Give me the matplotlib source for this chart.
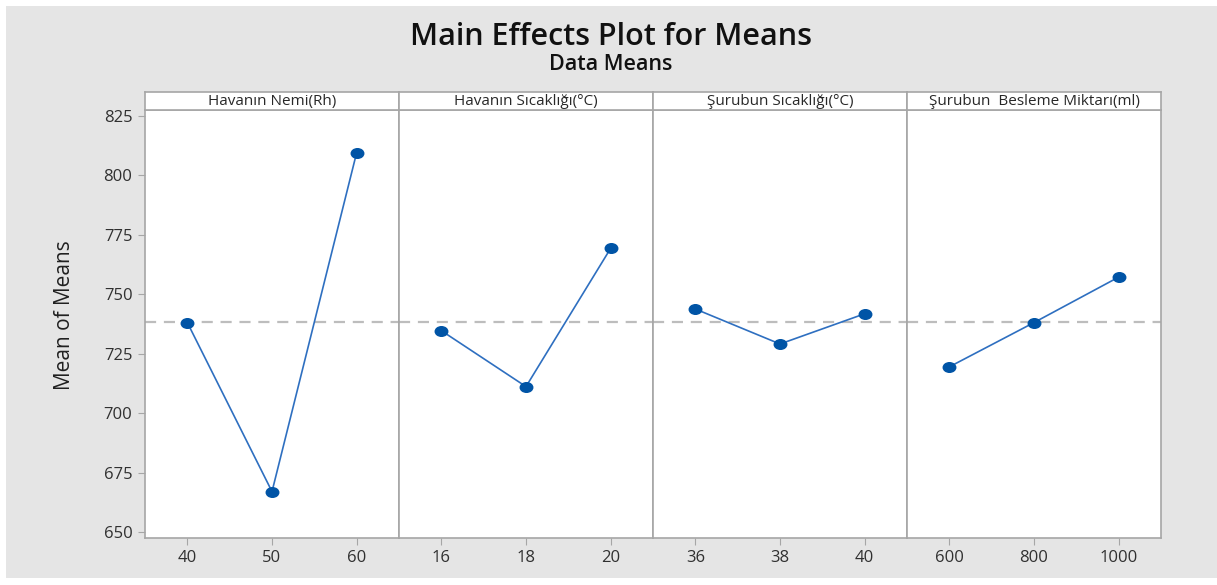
import matplotlib
matplotlib.use('Agg')
import matplotlib.pyplot as plt
from matplotlib.patches import Rectangle
from matplotlib.path import Path
from matplotlib.transforms import Affine2D

plt.rcParams['font.family'] = ['Open Sans', 'DejaVu Sans']

# factor names and levels
factors = ['Havanın Nemi(Rh)', 'Havanın Sıcaklığı(°C)',
           'Şurubun Sıcaklığı(°C)', 'Şurubun  Besleme Miktarı(ml)']
levels = [[40, 50, 60], [16, 18, 20], [36, 38, 40], [600, 800, 1000]]
means = [[738.1, 667.1, 809.5],
         [734.7, 711.2, 769.3],
         [743.8, 729.1, 741.8],
         [719.5, 738.1, 757.2]]
grand_mean = 738.2
yticks = [650, 675, 700, 725, 750, 775, 800, 825]

W, H = 1217, 585
fig = plt.figure(figsize=(W / 100, H / 100), dpi=100)
fig.patch.set_facecolor('white')
# gray background panel (white margin at top/left/bottom)
fig.patches.append(Rectangle((6 / W, 7 / H), 1 - 6 / W, 1 - 13 / H,
                             transform=fig.transFigure, facecolor='#e5e5e5',
                             edgecolor='none', zorder=-5))

# slightly wide dot, like in the original
dot = Path.unit_circle().transformed(Affine2D().scale(1.3, 1.0))

left, right = 145, 1161
bottom, top = 538, 110
strip_top = 92
pw = (right - left) / 4
edge = '#a6a6a6'
blue = '#0054a6'

for i in range(4):
    x0 = left + i * pw
    ax = fig.add_axes([x0 / W, 1 - bottom / H, pw / W, (bottom - top) / H])
    lv = levels[i]
    step = lv[1] - lv[0]
    ax.axhline(grand_mean, color='#bdbdbd', lw=1.6, ls=(0, (5, 3.5)), zorder=1)
    ax.plot(lv, means[i], color='#2e6fc0', lw=1.2, zorder=2)
    ax.plot(lv, means[i], ls='none', marker=dot, color=blue, ms=9, mec=blue, zorder=3)
    ax.set_xlim(lv[0] - step / 2, lv[-1] + step / 2)
    ax.set_ylim(647.6, 827.4)
    ax.set_xticks(lv)
    ax.set_xticklabels([str(v) for v in lv], fontsize=12, color='#303030')
    for s in ax.spines.values():
        s.set_color(edge)
        s.set_linewidth(1.2)
    ax.tick_params(axis='x', length=5, color=edge, pad=4)
    if i == 0:
        ax.set_yticks(yticks)
        ax.set_yticklabels([str(v) for v in yticks], fontsize=12, color='#303030')
        ax.tick_params(axis='y', length=5, color=edge, pad=4)
        ax.set_ylabel('Mean of Means', fontsize=15, color='#202020')
        ax.yaxis.set_label_coords(-70 / pw, 0.52)
    else:
        ax.set_yticks([])

    # strip header
    sx = fig.add_axes([x0 / W, 1 - top / H, pw / W, (top - strip_top) / H])
    sx.set_xticks([])
    sx.set_yticks([])
    for s in sx.spines.values():
        s.set_color(edge)
        s.set_linewidth(1.2)
    sx.text(0.5, 0.45, factors[i], ha='center', va='center', fontsize=11,
            color='#282828', transform=sx.transAxes)

fig.text(611 / W, 1 - 37 / H, 'Main Effects Plot for Means', ha='center',
         va='center', fontsize=22, fontweight='semibold', color='#111111')
fig.text(611 / W, 1 - 64 / H, 'Data Means', ha='center', va='center',
         fontsize=15.5, fontweight='semibold', color='#111111')

fig.savefig('out.png', dpi=100)
